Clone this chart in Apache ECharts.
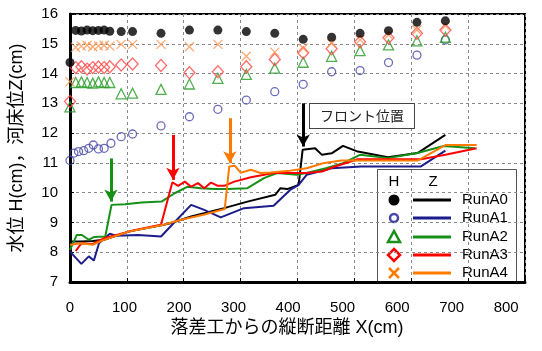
<!DOCTYPE html>
<html>
<head>
<meta charset="utf-8">
<script src="https://cdn.jsdelivr.net/npm/echarts@6/dist/echarts.min.js"></script>
<style>
html,body{margin:0;padding:0;background:#fff}
#c{width:542px;height:351px}
</style>
</head>
<body>
<div id="c"></div>
<script>
// Run names and colours
const runNames = ['RunA0', 'RunA1', 'RunA2', 'RunA3', 'RunA4'];
const lineColors = ['#000000', '#1c1c8c', '#169016', '#ff0000', '#ff7a00'];
const markerColors = ['#000000', '#4646a8', '#259a25', '#ff4646', '#ff9450'];

// Water level H (cm) along the channel
const hX = [0, 10, 20, 30, 40, 50, 60, 70, 90, 110, 160, 210, 260, 310, 360, 410, 460, 510, 560, 610, 660];
const hX1 = [0, 7, 15, 24, 33, 41, 50, 60, 72, 90, 110, 160, 210, 260, 310, 360, 410, 460, 510, 560, 610, 660];
const hA0 = [14.37, 15.45, 15.43, 15.46, 15.44, 15.45, 15.46, 15.42, 15.41, 15.41, 15.35, 15.46, 15.46, 15.41, 15.35, 15.15, 15.22, 15.35, 15.44, 15.72, 15.77];
const hA1 = [11.08, 11.33, 11.38, 11.41, 11.49, 11.6, 11.47, 11.49, 11.66, 11.88, 11.97, 12.24, 12.55, 12.80, 13.11, 13.39, 13.64, 14.06, 14.10, 14.37, 14.62, 15.13];
const hA2 = [12.88, 13.7, 13.72, 13.7, 13.68, 13.72, 13.7, 13.7, 13.32, 13.34, 13.47, 13.65, 13.84, 13.97, 14.18, 14.38, 14.58, 14.77, 14.96, 15.10, 15.22];
const hA3 = [13.06, 14.2, 14.23, 14.15, 14.2, 14.22, 14.2, 14.23, 14.29, 14.32, 14.27, 14.03, 14.06, 14.23, 14.47, 14.70, 14.83, 15.07, 15.2, 15.35, 15.46];
const hA4 = [13.73, 14.88, 14.92, 14.95, 14.9, 14.93, 14.95, 14.92, 14.98, 14.98, 14.98, 14.9, 14.98, 14.58, 14.72, 14.85, 15.02, 15.13, 15.3, 15.46, 15.6];

// Bed level Z (cm) along the channel
const zX0 = [0, 20, 40, 60, 105, 165, 178, 213, 271, 312, 361, 370, 382, 402, 409, 431, 443, 460, 480, 506, 559, 611, 660];
const zA0 = [8.36, 8.36, 8.38, 8.42, 8.7, 8.92, 8.98, 9.2, 9.48, 9.7, 9.93, 10.15, 10.12, 10.26, 11.44, 11.49, 11.27, 11.32, 11.57, 11.38, 11.19, 11.33, 11.94];
const zX1 = [0, 20, 33, 42, 51, 70, 82, 120, 160, 185, 213, 236, 265, 306, 358, 387, 402, 416, 460, 512, 617, 660];
const zA1 = [8.02, 7.61, 7.86, 7.72, 8.3, 8.62, 8.55, 8.58, 8.53, 9.03, 9.59, 9.42, 9.17, 9.48, 9.56, 10.09, 10.26, 10.6, 10.82, 10.88, 10.88, 11.41];
const zX2 = [0, 12, 21, 33, 42, 62, 73, 97, 126, 161, 184, 207, 230, 254, 277, 312, 341, 364, 399, 416, 450, 480, 510, 559, 611, 657, 712];
const zA2 = [8.08, 8.58, 8.58, 8.42, 8.51, 8.53, 9.59, 9.61, 9.67, 9.7, 9.98, 10.2, 10.15, 10.12, 10.12, 10.15, 10.49, 10.66, 10.6, 10.66, 10.82, 10.99, 11.27, 11.16, 11.33, 11.57, 11.49];
const zX3 = [10, 20, 40, 60, 115, 160, 180, 190, 202, 213, 225, 236, 248, 260, 271, 289, 318, 358, 416, 443, 466, 506, 617, 660, 715];
const zA3 = [8.04, 8.3, 8.28, 8.47, 8.75, 8.92, 10.35, 10.23, 10.37, 10.2, 10.32, 10.15, 10.34, 10.23, 10.23, 10.37, 10.52, 10.66, 10.66, 10.71, 10.88, 11.12, 11.12, 11.27, 11.49];
const zX4 = [0, 20, 40, 60, 105, 165, 195, 235, 272, 280, 290, 300, 318, 335, 352, 387, 416, 445, 477, 611, 660, 715];
const zA4 = [8.25, 8.3, 8.25, 8.42, 8.7, 8.92, 9.09, 9.26, 9.45, 10.88, 10.9, 10.67, 10.77, 10.66, 10.68, 10.74, 10.82, 10.99, 11.08, 11.08, 11.6, 11.6];

// Front position arrows (x, start level, tip level) for RunA2, RunA3, RunA4, RunA0
const arrowX = [72, 181, 281, 410];
const arrowTop = [11.15, 11.94, 12.5, 13.0];
const arrowTip = [9.7, 10.43, 10.99, 11.55];
const arrowColors = ['#169016', '#ff0000', '#ff7a00', '#000000'];

// Axis ticks
const xTicks = [0, 100, 200, 300, 400, 500, 600, 700, 800];
const yTicks = [7, 8, 9, 10, 11, 12, 13, 14, 15, 16];

const latin = '"Liberation Sans", Arial, sans-serif';
const cjk = '"Liberation Sans", "Noto Sans CJK JP", sans-serif';

const zip = (xs, ys) => xs.map((x, i) => [x, ys[i]]);

const crossPath = 'path://M0,0L10,10M10,0L0,10';
const hSeriesDefs = [
  { i: 1, x: hX1, y: hA1, symbol: 'circle', size: 8 },
  { i: 2, x: hX, y: hA2, symbol: 'triangle', size: 10 },
  { i: 3, x: hX, y: hA3, symbol: 'diamond', size: [11, 12] },
  { i: 4, x: hX, y: hA4, symbol: crossPath, size: 9 },
  { i: 0, x: hX, y: hA0, symbol: 'circle', size: 9, filled: true }
];
const zSeriesDefs = [
  { i: 0, x: zX0, y: zA0 },
  { i: 1, x: zX1, y: zA1 },
  { i: 2, x: zX2, y: zA2 },
  { i: 3, x: zX3, y: zA3 },
  { i: 4, x: zX4, y: zA4 }
];

const series = [];
zSeriesDefs.forEach(d => {
  series.push({
    name: runNames[d.i] + ' Z',
    type: 'line',
    xAxisIndex: 0,
    data: zip(d.x, d.y),
    showSymbol: false,
    symbol: 'none',
    lineStyle: { color: lineColors[d.i], width: 2 },
    animation: false,
    z: 3
  });
});

// Arrows marking the front position of each run
series.push({
  name: 'front',
  type: 'line',
  xAxisIndex: 0,
  data: [],
  animation: false,
  markLine: {
    silent: true,
    symbol: ['none', 'arrow'],
    symbolSize: [10, 12],
    label: { show: false },
    data: arrowX.map((x, k) => [
      { coord: [x, arrowTop[k]], lineStyle: { color: arrowColors[k], width: 3, type: 'solid' }, itemStyle: { color: arrowColors[k] } },
      { coord: [x, arrowTip[k]] }
    ])
  },
  z: 4
});

hSeriesDefs.forEach(d => {
  series.push({
    name: runNames[d.i] + ' H',
    type: 'scatter',
    xAxisIndex: 0,
    data: zip(d.x, d.y),
    symbol: d.symbol,
    symbolSize: d.size,
    itemStyle: d.filled
      ? { color: markerColors[d.i] }
      : { color: 'rgba(255,255,255,0)', borderColor: markerColors[d.i], borderWidth: 1.3 },
    animation: false,
    z: 5
  });
});

// Legend: marker (H) and line (Z) for each run
const legendRowY = [200, 218, 237, 255, 273];
const mx = 394;
const legendMarkers = [
  { type: 'circle', shape: { cx: mx, cy: legendRowY[0], r: 5.5 }, style: { fill: markerColors[0] } },
  { type: 'circle', shape: { cx: mx, cy: legendRowY[1], r: 4 }, style: { fill: 'none', stroke: markerColors[1], lineWidth: 2.5 } },
  { type: 'polygon', shape: { points: [[mx, legendRowY[2] - 6], [mx - 6, legendRowY[2] + 5], [mx + 6, legendRowY[2] + 5]] }, style: { fill: 'none', stroke: lineColors[2], lineWidth: 2.5 } },
  { type: 'polygon', shape: { points: [[mx, legendRowY[3] - 6], [mx + 6, legendRowY[3]], [mx, legendRowY[3] + 6], [mx - 6, legendRowY[3]]] }, style: { fill: 'none', stroke: lineColors[3], lineWidth: 2.5 } },
  { type: 'polyline', shape: { points: [[mx - 5, legendRowY[4] - 5], [mx + 5, legendRowY[4] + 5]] }, style: { stroke: lineColors[4], lineWidth: 2.5 } },
  { type: 'polyline', shape: { points: [[mx + 5, legendRowY[4] - 5], [mx - 5, legendRowY[4] + 5]] }, style: { stroke: lineColors[4], lineWidth: 2.5 } }
];
const legendItems = [
  { type: 'rect', shape: { x: 377.5, y: 169.5, width: 139, height: 113 }, style: { fill: '#fff', stroke: '#555', lineWidth: 1 } },
  { type: 'text', x: mx, y: 182, style: { text: 'H', font: '15px ' + latin, fill: '#000', align: 'center', verticalAlign: 'middle' } },
  { type: 'text', x: 433, y: 182, style: { text: 'Z', font: '15px ' + latin, fill: '#000', align: 'center', verticalAlign: 'middle' } }
].concat(legendMarkers);
runNames.forEach((n, k) => {
  legendItems.push({ type: 'line', shape: { x1: 413, y1: legendRowY[k], x2: 451, y2: legendRowY[k] }, style: { stroke: lineColors[k], lineWidth: 3 } });
  legendItems.push({ type: 'text', x: 462, y: legendRowY[k], style: { text: n, font: '15px ' + latin, fill: '#000', align: 'left', verticalAlign: 'middle' } });
});

// The distance labels are set a little tighter than the grid spacing,
// so they sit on their own label-only axis sharing the same grid.
const labelAxisMax = 834.5;

const chart = echarts.init(document.getElementById('c'), null, { renderer: 'canvas' });
chart.setOption({
  backgroundColor: '#fff',
  animation: false,
  grid: { left: 66, right: 17, top: 14, bottom: 69, show: true, borderColor: '#000', borderWidth: 2, backgroundColor: 'transparent' },
  xAxis: [
    {
      type: 'value', min: xTicks[0], max: xTicks[xTicks.length - 1], interval: 100,
      axisLine: { lineStyle: { color: '#000', width: 3 } },
      axisTick: { inside: true, length: 4, lineStyle: { color: '#000' } },
      axisLabel: { show: false },
      splitLine: { show: true, lineStyle: { color: '#8a8a8a', type: [3, 3], width: 1 } }
    },
    {
      type: 'value', position: 'bottom', min: xTicks[0], max: labelAxisMax, interval: 100,
      axisLine: { show: false }, axisTick: { show: false }, splitLine: { show: false },
      axisLabel: {
        fontFamily: latin, fontSize: 15, color: '#000', margin: 18, showMaxLabel: false,
        formatter: v => (xTicks.indexOf(v) >= 0 ? String(v) : '')
      }
    }
  ],
  yAxis: {
    type: 'value', min: yTicks[0], max: yTicks[yTicks.length - 1], interval: 1,
    name: '水位 H(cm)，河床位Z(cm)', nameLocation: 'middle', nameGap: 44,
    nameTextStyle: { fontFamily: cjk, fontSize: 18, color: '#000' },
    axisLine: { lineStyle: { color: '#000', width: 3 } },
    axisTick: { inside: true, length: 4, lineStyle: { color: '#000' } },
    axisLabel: { fontFamily: latin, fontSize: 15, color: '#000', margin: 12 },
    splitLine: { show: true, lineStyle: { color: '#8a8a8a', type: [3, 3], width: 1 } }
  },
  series: series,
  graphic: [
    {
      type: 'text', x: 287, y: 328, z: 50,
      style: { text: '落差工からの縦断距離 X(cm)', font: '18px ' + cjk, fill: '#000', align: 'center', verticalAlign: 'middle' }
    },
    {
      type: 'text', left: 309, top: 103, z: 50,
      style: {
        text: 'フロント位置', font: '14px "Noto Sans CJK JP", sans-serif', fill: '#222',
        backgroundColor: '#fff', borderColor: '#444', borderWidth: 1, padding: [5, 10]
      }
    },
    { type: 'group', z: 60, children: legendItems }
  ]
});
</script>
</body>
</html>
